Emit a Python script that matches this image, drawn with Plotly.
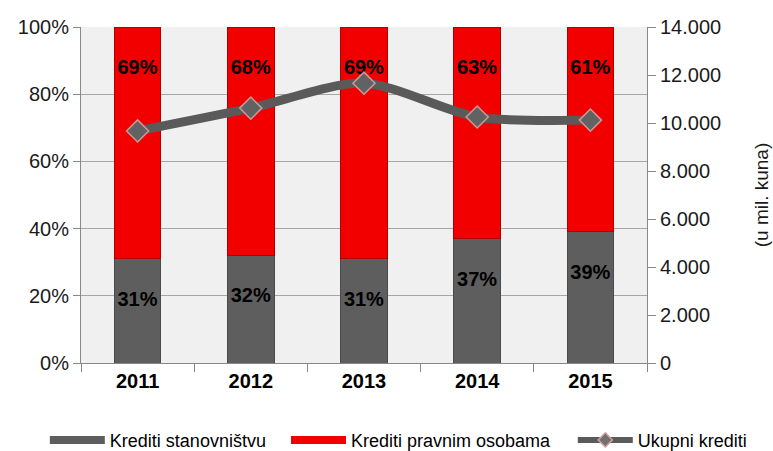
import plotly.graph_objects as go

# data
years = ['2011', '2012', '2013', '2014', '2015']
share_households = [31, 32, 31, 37, 39]       # Krediti stanovništvu (%)
share_legal = [69, 68, 69, 63, 61]            # Krediti pravnim osobama (%)
total_loans = [9670, 10620, 11660, 10250, 10120]  # Ukupni krediti (u mil. kuna)

FONT = 'Liberation Sans, Arial, sans-serif'
NBSP = '\u00a0'
GRAY = '#5e5e5e'
RED = '#f20000'
LINE = '#5a5a5a'

fig = go.Figure()

fig.add_trace(go.Bar(
    x=years, y=share_households, name='Krediti stanovništvu', showlegend=False,
    marker=dict(color=GRAY, line=dict(color='#4a4a4a', width=1)),
    text=[NBSP + '<br><b>%d%%</b>' % v for v in share_households],
    textposition='inside', insidetextanchor='end',
    textfont=dict(family=FONT, size=20, color='#000000'),
    width=0.41,
))

fig.add_trace(go.Bar(
    x=years, y=share_legal, name='Krediti pravnim osobama', showlegend=False,
    marker=dict(color=RED, line=dict(color='#b00000', width=1)),
    text=[NBSP + '<br><b>%d%%</b>' % v for v in share_legal],
    textposition='inside', insidetextanchor='end',
    textfont=dict(family=FONT, size=20, color='#000000'),
    width=0.41,
))

fig.add_trace(go.Scatter(
    x=years, y=total_loans, name='Ukupni krediti', yaxis='y2',
    mode='lines+markers', showlegend=False,
    line=dict(color=LINE, width=9, shape='spline', smoothing=0.8),
    marker=dict(symbol='diamond', size=17, color='#626262',
                line=dict(color='#c99a9a', width=1.5)),
))

# legend entries drawn as wide swatches like the original, one legend each
fig.add_trace(go.Scatter(x=[None], y=[None], mode='lines', name='Krediti stanovništvu',
                         line=dict(color=GRAY, width=8), legend='legend'))
fig.add_trace(go.Scatter(x=[None], y=[None], mode='lines', name='Krediti pravnim osobama',
                         line=dict(color=RED, width=8), legend='legend2'))
fig.add_trace(go.Scatter(x=[None], y=[None], mode='lines+markers', name='Ukupni krediti',
                         line=dict(color=LINE, width=6),
                         marker=dict(symbol='diamond', size=11, color='#707070',
                                     line=dict(color='#d0a0a0', width=1.5)),
                         legend='legend3'))

legend_style = dict(
    orientation='h', xref='container', xanchor='left',
    yref='container', y=0.024, yanchor='middle',
    font=dict(size=18, color='#000000'), itemwidth=55,
    bgcolor='rgba(0,0,0,0)',
)

fig.update_layout(
    width=773, height=451,
    margin=dict(l=81, r=126, t=27, b=88, autoexpand=False),
    barmode='stack',
    bargap=0.59,
    paper_bgcolor='white',
    plot_bgcolor='#f0f0f0',
    separators=',.',
    font=dict(family=FONT, size=20, color='#1a1a1a'),
    showlegend=True,
    legend=dict(legend_style, x=0.058),
    legend2=dict(legend_style, x=0.370),
    legend3=dict(legend_style, x=0.741),
    xaxis=dict(
        type='category', tickson='boundaries', ticks='outside', ticklen=8,
        tickcolor='#888888', showline=True, linecolor='#888888', linewidth=1,
        tickfont=dict(size=20, color='#000000', family=FONT, weight='bold'),
        showgrid=False, automargin=False,
    ),
    yaxis=dict(
        range=[0, 100], dtick=20, ticksuffix='%', ticks='outside', ticklen=7,
        tickcolor='#888888', showline=True, linecolor='#888888', linewidth=1,
        gridcolor='#a6a6a6', gridwidth=1, zeroline=False,
        tickfont=dict(size=20), automargin=False,
    ),
    yaxis2=dict(
        overlaying='y', side='right', range=[0, 14000], dtick=2000,
        tickformat=',d', ticks='outside', ticklen=8, tickcolor='#888888',
        showline=True, linecolor='#888888', linewidth=1, showgrid=False,
        zeroline=False, tickfont=dict(size=20), automargin=False,
        title=dict(text='(u mil. kuna)', font=dict(size=19), standoff=34),
    ),
)

fig.write_html('out.html', config={'displayModeBar': False},
               post_script="document.body.style.margin='0';")
